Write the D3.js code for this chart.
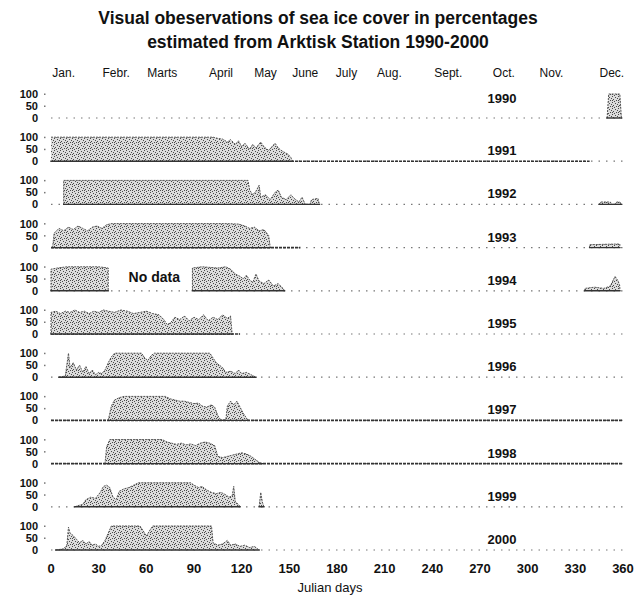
<!DOCTYPE html>
<html>
<head>
<meta charset="utf-8">
<script src="https://cdn.jsdelivr.net/npm/d3@7"></script>
<style>
  html, body { margin: 0; padding: 0; background: #fff; }
  svg text { font-family: "Liberation Sans", Arial, sans-serif; fill: #111; }
</style>
</head>
<body>
<div id="chart"></div>
<script>
// ============================================================
// Data ([julian day, % ice cover])
// ============================================================
const years = [1990, 1991, 1992, 1993, 1994, 1995, 1996, 1997, 1998, 1999, 2000];

const monthLabels = ['Jan.', 'Febr.', 'Marts', 'April', 'May', 'June', 'July', 'Aug.', 'Sept.', 'Oct.', 'Nov.', 'Dec.'];
const monthLabelDays = [8, 41, 70, 107, 135, 160, 186, 213, 250, 285, 315, 353];
const dayTicks = [0, 30, 60, 90, 120, 150, 180, 210, 240, 270, 300, 330, 360];
const pctTicks = [100, 50, 0];

const ice1990 = [[350, 0], [351, 100], [358, 100], [359, 0]];
const ice1991 = [[0, 100], [20, 100], [50, 100], [80, 100], [102, 100], [105, 95], [108, 92], [111, 80], [113, 90],
  [116, 70], [118, 85], [120, 60], [122, 75], [125, 50], [127, 70], [129, 55], [132, 80], [134, 60], [137, 45],
  [139, 60], [141, 75], [143, 55], [146, 40], [149, 30], [151, 15], [152, 0]];
const ice1992 = [[8, 0], [8, 100], [40, 100], [80, 100], [124, 100], [125, 60], [127, 40], [129, 55], [131, 80],
  [132, 30], [135, 40], [138, 20], [141, 50], [143, 60], [145, 30], [148, 20], [151, 40], [153, 25], [156, 10],
  [158, 30], [160, 0], [163, 0], [164, 20], [168, 25], [169, 0], [null, null],
  [345, 0], [346, 10], [352, 10], [353, 0], [355, 0], [356, 10], [358, 10], [359, 0]];
const ice1993 = [[1, 0], [2, 60], [5, 80], [8, 70], [11, 85], [14, 75], [17, 90], [20, 80], [23, 70], [26, 85],
  [29, 90], [32, 80], [35, 95], [38, 100], [70, 100], [110, 100], [118, 98], [122, 90], [125, 80], [128, 85],
  [131, 70], [134, 75], [137, 50], [138, 0], [null, null], [339, 0], [339, 12], [350, 14], [358, 15], [358, 0]];
const ice1994 = [[0, 0], [0, 90], [4, 95], [10, 100], [30, 100], [36, 95], [36, 0], [null, null],
  [89, 0], [89, 95], [95, 100], [105, 95], [110, 100], [113, 90], [116, 70], [119, 60], [121, 50], [123, 65],
  [125, 45], [127, 35], [129, 70], [131, 40], [134, 30], [137, 45], [140, 20], [143, 30], [146, 10], [147, 0],
  [null, null], [336, 0], [336, 10], [342, 15], [348, 10], [352, 20], [355, 60], [357, 40], [358, 20], [358, 0]];
const ice1995 = [[0, 0], [0, 90], [3, 95], [6, 85], [9, 95], [12, 90], [15, 100], [18, 90], [21, 95], [24, 85],
  [27, 95], [30, 90], [33, 100], [36, 95], [40, 90], [44, 100], [48, 95], [52, 85], [56, 90], [60, 95], [64, 85],
  [68, 80], [71, 60], [73, 40], [75, 45], [78, 70], [81, 60], [84, 75], [87, 55], [90, 70], [93, 60], [96, 80],
  [99, 55], [102, 70], [105, 60], [108, 80], [111, 65], [113, 75], [114, 0]];
const ice1996 = [[5, 0], [9, 5], [11, 100], [12, 40], [14, 60], [16, 30], [18, 50], [20, 20], [22, 45], [24, 15],
  [26, 30], [28, 10], [30, 20], [32, 15], [34, 30], [36, 60], [38, 85], [40, 100], [57, 100], [59, 80], [61, 70],
  [63, 90], [65, 100], [100, 100], [102, 80], [104, 60], [106, 50], [108, 40], [110, 20], [113, 25], [116, 15],
  [118, 30], [120, 15], [123, 20], [126, 10], [129, 0]];
const ice1997 = [[36, 0], [38, 60], [40, 85], [43, 95], [46, 100], [72, 100], [75, 90], [78, 85], [81, 80],
  [84, 80], [87, 75], [90, 70], [93, 72], [95, 60], [98, 55], [101, 65], [103, 55], [105, 20], [107, 0], [110, 0],
  [111, 60], [113, 80], [115, 65], [117, 80], [119, 55], [121, 30], [124, 0]];
const ice1998 = [[34, 0], [35, 70], [37, 100], [70, 100], [73, 90], [76, 85], [79, 80], [82, 85], [85, 78],
  [88, 82], [91, 75], [94, 85], [97, 90], [100, 85], [103, 75], [105, 30], [108, 25], [111, 30], [114, 35],
  [117, 40], [120, 45], [123, 40], [126, 30], [129, 15], [131, 5], [133, 0]];
const ice1999 = [[15, 0], [17, 5], [20, 10], [22, 30], [25, 40], [28, 35], [31, 60], [33, 85], [35, 90], [37, 80],
  [39, 40], [41, 30], [43, 65], [46, 75], [49, 80], [52, 90], [55, 100], [88, 100], [90, 90], [93, 80], [95, 85],
  [98, 70], [101, 60], [104, 55], [107, 60], [110, 50], [112, 40], [114, 45], [115, 85], [116, 20], [118, 10],
  [119, 0], [null, null], [131, 0], [132, 60], [133, 20], [134, 0]];
const ice2000 = [[3, 0], [8, 5], [10, 20], [11, 95], [12, 70], [14, 60], [16, 45], [18, 30], [20, 40], [22, 25],
  [24, 35], [26, 20], [28, 25], [30, 15], [32, 20], [34, 40], [36, 70], [38, 100], [56, 100], [58, 80], [60, 58],
  [62, 80], [64, 100], [101, 100], [102, 30], [105, 20], [108, 25], [111, 40], [113, 20], [116, 25], [119, 15],
  [122, 20], [125, 10], [128, 15], [130, 5], [131, 0]];

const iceSeries = [ice1990, ice1991, ice1992, ice1993, ice1994, ice1995, ice1996, ice1997, ice1998, ice1999, ice2000];

// stretches where the zero line was logged densely: [year, from day, to day]
const darkSpans = [[1991, 0, 339], [1993, 0, 157], [1995, 0, 119], [1997, 0, 360], [1998, 0, 360]];

// ============================================================
// Layout
// ============================================================
const W = 634, H = 597;
const firstBase = 118, rowStep = 43.2, rowH = 24;

const x = d3.scaleLinear().domain([0, 360]).range([51, 623]);

const svg = d3.select('#chart').append('svg')
  .attr('width', W).attr('height', H);

// stipple pattern for ice cover (irregular speckle, like the scan)
const defs = svg.append('defs');
const pat = defs.append('pattern')
  .attr('id', 'stipple')
  .attr('patternUnits', 'userSpaceOnUse')
  .attr('width', 6).attr('height', 6);
pat.append('rect').attr('width', 6).attr('height', 6).attr('fill', '#dcdcdc');
[[0, 0], [3, 1], [5, 2], [1, 3], [4, 4], [2, 5], [0, 4]].forEach(p => {
  pat.append('rect').attr('x', p[0]).attr('y', p[1]).attr('width', 1).attr('height', 1).attr('fill', '#4a4a4a');
});

// Title
svg.append('text')
  .attr('x', 318).attr('y', 24)
  .attr('text-anchor', 'middle')
  .style('font-size', '17.5px').style('font-weight', 'bold')
  .text('Visual obeservations of sea ice cover in percentages');
svg.append('text')
  .attr('x', 318).attr('y', 48)
  .attr('text-anchor', 'middle')
  .style('font-size', '17.5px').style('font-weight', 'bold')
  .text('estimated from Arktisk Station 1990-2000');

// Months
svg.append('g').selectAll('text')
  .data(monthLabels)
  .join('text')
  .attr('x', (d, i) => x(monthLabelDays[i]))
  .attr('y', 77)
  .attr('text-anchor', 'middle')
  .style('font-size', '12px')
  .text(d => d);

// ============================================================
// Rows
// ============================================================
years.forEach((year, i) => {
  const base = firstBase + i * rowStep;
  const y = d3.scaleLinear().domain([0, 100]).range([base, base - rowH]);
  const g = svg.append('g').attr('class', 'row');

  // y tick labels (stacked tightly, as in the original)
  g.selectAll('text.tick')
    .data(pctTicks)
    .join('text')
    .attr('class', 'tick')
    .attr('x', 38)
    .attr('y', d => y(d) + 4)
    .attr('text-anchor', 'end')
    .style('font-size', '11px').style('font-weight', 'bold')
    .text(d => d);

  // small tick marks
  g.selectAll('rect.tk')
    .data([100, 50])
    .join('rect')
    .attr('class', 'tk')
    .attr('x', 44).attr('y', d => y(d) - 0.5)
    .attr('width', 1.5).attr('height', 1.5)
    .attr('fill', '#777');

  // sparse zero-line observations
  g.append('line')
    .attr('x1', x(0)).attr('x2', x(360))
    .attr('y1', base).attr('y2', base)
    .attr('stroke', '#777').attr('stroke-width', 1.2)
    .attr('stroke-dasharray', '1.5,6');

  darkSpans.filter(s => s[0] === year).forEach(s => {
    g.append('line')
      .attr('x1', x(s[1])).attr('x2', x(s[2]))
      .attr('y1', base).attr('y2', base)
      .attr('stroke', '#333').attr('stroke-width', 1.6)
      .attr('stroke-dasharray', '3,1');
  });

  const data = iceSeries[i];
  const area = d3.area()
    .defined(d => d[0] !== null)
    .x(d => x(d[0]))
    .y0(base)
    .y1(d => y(d[1]));
  const line = d3.line()
    .defined(d => d[0] !== null)
    .x(d => x(d[0]))
    .y(d => y(d[1]));

  g.append('path')
    .attr('d', area(data))
    .attr('fill', 'url(#stipple)');
  g.append('path')
    .attr('d', line(data))
    .attr('fill', 'none')
    .attr('stroke', '#555').attr('stroke-width', 1)
    .attr('stroke-dasharray', '2,1');

  // under-fill bottom edge
  g.append('path')
    .attr('d', area.y1(base + 0.01)(data))
    .attr('fill', 'none')
    .attr('stroke', '#333').attr('stroke-width', 1.4);

  // year label
  g.append('text')
    .attr('x', 502)
    .attr('y', base - (year === 1990 ? 20 : 11) + 5)
    .attr('text-anchor', 'middle')
    .style('font-size', '13px').style('font-weight', 'bold')
    .text(year);

  if (year === 1994) {
    g.append('text')
      .attr('x', x(65)).attr('y', base - 9)
      .attr('text-anchor', 'middle')
      .style('font-size', '14px').style('font-weight', 'bold')
      .text('No data');
  }
});

// ============================================================
// X axis labels
// ============================================================
const lastBase = firstBase + (years.length - 1) * rowStep;
svg.append('g').selectAll('text')
  .data(dayTicks)
  .join('text')
  .attr('x', d => x(d))
  .attr('y', lastBase + 23)
  .attr('text-anchor', 'middle')
  .style('font-size', '13px').style('font-weight', 'bold')
  .text(d => d);

svg.append('text')
  .attr('x', 330).attr('y', lastBase + 42)
  .attr('text-anchor', 'middle')
  .style('font-size', '13px')
  .text('Julian days');
</script>
</body>
</html>
